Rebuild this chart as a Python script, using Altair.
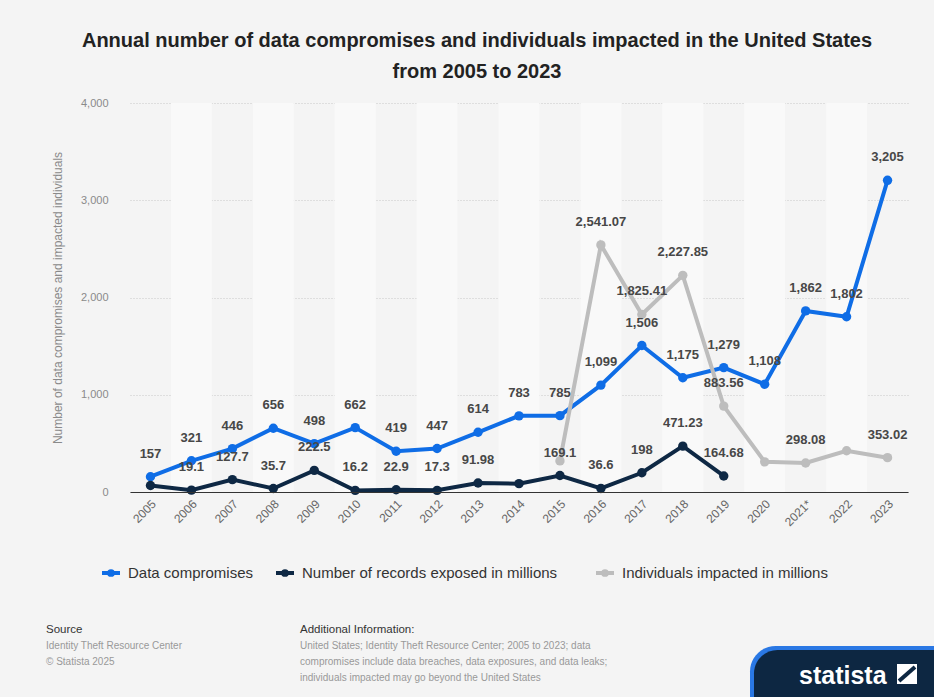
import altair as alt
import pandas as pd

years = ["2005", "2006", "2007", "2008", "2009", "2010", "2011", "2012", "2013", "2014",
         "2015", "2016", "2017", "2018", "2019", "2020", "2021*", "2022", "2023"]
data_compromises = [157, 321, 446, 656, 498, 662, 419, 447, 614, 783,
                    785, 1099, 1506, 1175, 1279, 1108, 1862, 1802, 3205]
records_exposed = [66.9, 19.1, 127.7, 35.7, 222.5, 16.2, 22.9, 17.3, 91.98, 85.6,
                   169.1, 36.6, 198, 471.23, 164.68, None, None, None, None]
individuals = [None, None, None, None, None, None, None, None, None, None,
               320, 2541.07, 1825.41, 2227.85, 883.56, 310, 298.08, 424, 353.02]
# which value labels are visible in the original
show_compromises = [True] * 19
show_records = [False, True, True, True, True, True, True, True, True, False,
                True, True, True, True, True, False, False, False, False]
show_individuals = [False] * 10 + [False, True, True, True, True, False, True, False, True]

series_names = ["Data compromises", "Number of records exposed in millions",
                "Individuals impacted in millions"]
series_colors = ["#0f6de6", "#0e2844", "#bdbdbd"]
y_ticks = [0, 1000, 2000, 3000, 4000]


def fmt(v):
    s = f"{v:,.2f}"
    s = s.rstrip("0").rstrip(".")
    return s


rows = []
for name, vals, shows in zip(series_names,
                             [data_compromises, records_exposed, individuals],
                             [show_compromises, show_records, show_individuals]):
    for y, v, s in zip(years, vals, shows):
        if v is None:
            continue
        rows.append({"year": y, "series": name, "value": v,
                     "label": fmt(v) if s else ""})
df = pd.DataFrame(rows)

bg = pd.DataFrame({"year": years, "idx": list(range(len(years)))})

W, H = 778, 389
OX, OY = 130, 103
FONT = "Liberation Sans"

xscale = alt.Scale(type="band", domain=years, paddingInner=0, paddingOuter=0)
xaxis = alt.Axis(title=None, labelAngle=-45, labelColor="#666666", labelFontSize=12,
                 labelPadding=6, ticks=False, domainColor="#333333", domainWidth=1.2,
                 grid=False, labelFont=FONT)
yscale = alt.Scale(domain=[0, 4000], nice=False)
yaxis = alt.Axis(values=y_ticks, format=",d", grid=True,
                 gridDash=[1, 2], gridColor="#c8c8c8", gridWidth=1, domain=False,
                 ticks=False, labelColor="#8a8a8a", labelFontSize=11, labelPadding=22,
                 title="Number of data compromises and impacted individuals",
                 titleColor="#8a8a8a", titleFontSize=12, titleFontWeight="normal",
                 titlePadding=16, labelFont=FONT, titleFont=FONT)
cscale = alt.Scale(domain=series_names, range=series_colors)

bands = alt.Chart(bg).transform_filter("datum.idx % 2 == 1").mark_rect(
    color="#f9f9f9").encode(
    x=alt.X("year:N", scale=xscale, axis=xaxis, sort=years),
    y=alt.value(0), y2=alt.value(H))

base = alt.Chart(df).encode(
    x=alt.X("year:N", scale=xscale, axis=xaxis, sort=years, bandPosition=0.5),
    y=alt.Y("value:Q", scale=yscale, axis=yaxis),
)

lines = base.mark_line(strokeWidth=4).encode(
    color=alt.Color("series:N", scale=cscale, legend=None), detail="series:N")
points = base.mark_circle(size=88, opacity=1).encode(
    color=alt.Color("series:N", scale=cscale, legend=None))
labels = base.mark_text(dy=-23, fontSize=13, fontWeight="bold", color="#474747",
                        font=FONT).encode(text="label:N")

one = pd.DataFrame({"a": [0]})


def txt(s, px, py, size=11, color="#999999", weight="normal", align="left", font=FONT):
    return alt.Chart(one).mark_text(text=s, fontSize=size, color=color, fontWeight=weight,
                                    align=align, baseline="alphabetic", font=font).encode(
        x=alt.value(px - OX), y=alt.value(py - OY))


# manual legend (line + dot symbol, then label)
legend_label_x = [128, 302, 622]
legend_y = 573
legend_layers = []
for name, col, lx in zip(series_names, series_colors, legend_label_x):
    item = alt.Chart(pd.DataFrame({"series": [name]}))
    legend_layers.append(item.mark_rule(color=col, strokeWidth=4).encode(
        x=alt.value(lx - 26 - OX), x2=alt.value(lx - 8 - OX),
        y=alt.value(legend_y - OY), y2=alt.value(legend_y - OY)))
    legend_layers.append(item.mark_circle(color=col, size=60, opacity=1).encode(
        x=alt.value(lx - 17 - OX), y=alt.value(legend_y - OY)))
    legend_layers.append(item.mark_text(align="left", baseline="middle", fontSize=15,
                                        color="#333333", font=FONT).encode(
        x=alt.value(lx - OX), y=alt.value(legend_y - OY), text="series:N"))

title1 = txt("Annual number of data compromises and individuals impacted in the United States",
             477, 47, size=20, color="#222222", weight="bold", align="center")
title2 = txt("from 2005 to 2023", 477, 78, size=20, color="#222222", weight="bold",
             align="center")

footer = [
    txt("Source", 46, 633, size=11.5, color="#333333"),
    txt("Identity Theft Resource Center", 46, 649, size=10),
    txt("© Statista 2025", 46, 665, size=10),
    txt("Additional Information:", 300, 633, size=11.5, color="#333333"),
    txt("United States; Identity Theft Resource Center; 2005 to 2023; data", 300, 649, size=10),
    txt("compromises include data breaches, data exposures, and data leaks;", 300, 665, size=10),
    txt("individuals impacted may go beyond the United States", 300, 681, size=10),
]

logo_edge = alt.Chart(one).mark_rect(color="#2a78e4", cornerRadiusTopLeft=60).encode(
    x=alt.value(750 - OX), x2=alt.value(934 - OX), y=alt.value(646 - OY), y2=alt.value(697 - OY))
logo_bg = alt.Chart(one).mark_rect(color="#0d2742", cornerRadiusTopLeft=60).encode(
    x=alt.value(754 - OX), x2=alt.value(934 - OX), y=alt.value(650 - OY), y2=alt.value(697 - OY))
logo_txt = txt("statista", 799, 684, size=25, color="#ffffff", weight="bold")
logo_icon = alt.Chart(one).mark_rect(color="#ffffff").encode(
    x=alt.value(897 - OX), x2=alt.value(917 - OX), y=alt.value(664 - OY), y2=alt.value(684 - OY))
logo_icon2 = alt.Chart(one).mark_rule(color="#0d2742", strokeWidth=4).encode(
    x=alt.value(899 - OX), x2=alt.value(915 - OX), y=alt.value(681 - OY), y2=alt.value(667 - OY))

chart = alt.layer(bands, lines, points, labels, title1, title2, *legend_layers, *footer,
                  logo_edge, logo_bg, logo_txt, logo_icon, logo_icon2).properties(
    width=W, height=H,
    autosize=alt.AutoSizeParams(type="none"),
    padding={"left": OX, "top": OY, "right": 934 - OX - W, "bottom": 697 - OY - H},
    background="#f4f4f4",
).configure_view(stroke=None)

chart.save("out.html", embed_options={"renderer": "svg", "actions": False})
